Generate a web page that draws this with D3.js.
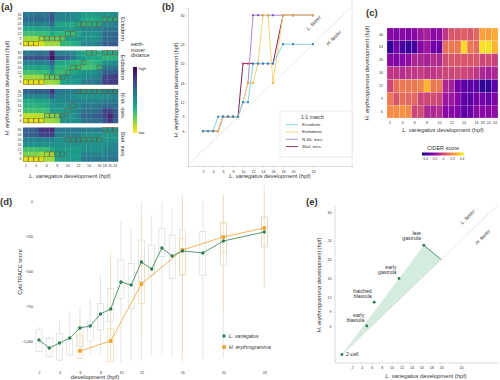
<!DOCTYPE html>
<html><head><meta charset="utf-8">
<script src="https://cdn.jsdelivr.net/npm/d3@7/dist/d3.min.js"></script>
<style>
body{margin:0;background:#fff;}
svg{display:block;}
text{font-family:"Liberation Sans",Arial,Helvetica,sans-serif;fill:#333;}
</style></head><body>
<svg id="fig" width="500" height="380"></svg>
<script>
// ---------------- data ----------------
const lvTimes = [2,3,4,5,6,7,8,9,10,11,12,13,14,15,16,18,20,24];
const heTimes = [6,9,12,16,20,24,30];
const lvTickLabels = [2,4,6,8,10,12,14,16,18,20,24];
const heTickLabels = [6,9,12,16,20,24,30];
const layerNames = ["Ectoderm","Endoderm","N-sk. mes.","Skel. mes."];
const legendNamesB = ["Ectoderm","Endoderm","N-Sk. mes.","Skel. mes."];

// (a) earth-mover distance (0 = low, 1 = high); rows: 30,24,20,16,12,9,6 hpf
const emdEcto = [
 [0.6,0.6,0.62,0.62,0.6,0.72,0.55,0.55,0.55,0.52,0.5,0.45,0.45,0.45,0.48,0.5,0.5,0.52],
 [0.65,0.65,0.66,0.66,0.65,0.75,0.55,0.55,0.55,0.52,0.5,0.42,0.4,0.4,0.42,0.4,0.4,0.42],
 [0.55,0.55,0.55,0.56,0.55,0.65,0.42,0.42,0.4,0.4,0.38,0.36,0.36,0.38,0.4,0.55,0.55,0.58],
 [0.4,0.4,0.42,0.42,0.42,0.5,0.45,0.45,0.45,0.45,0.48,0.55,0.55,0.55,0.58,0.6,0.6,0.62],
 [0.3,0.3,0.3,0.32,0.32,0.4,0.35,0.35,0.33,0.33,0.4,0.5,0.5,0.5,0.52,0.65,0.65,0.68],
 [0.15,0.15,0.15,0.17,0.25,0.25,0.25,0.27,0.45,0.45,0.5,0.5,0.5,0.5,0.52,0.65,0.65,0.68],
 [0.04,0.04,0.05,0.06,0.15,0.15,0.15,0.35,0.35,0.38,0.4,0.55,0.55,0.55,0.58,0.7,0.7,0.72]];
const emdEndo = [
 [0.6,0.6,0.62,0.62,0.6,0.9,0.55,0.55,0.55,0.52,0.45,0.4,0.38,0.38,0.38,0.4,0.4,0.42],
 [0.75,0.75,0.76,0.76,0.75,0.95,0.7,0.7,0.68,0.6,0.5,0.45,0.42,0.4,0.4,0.35,0.35,0.37],
 [0.55,0.55,0.56,0.56,0.55,0.7,0.42,0.4,0.4,0.38,0.35,0.35,0.33,0.35,0.38,0.5,0.5,0.52],
 [0.42,0.42,0.42,0.42,0.42,0.55,0.35,0.35,0.35,0.32,0.32,0.3,0.3,0.32,0.35,0.6,0.6,0.62],
 [0.3,0.3,0.3,0.32,0.32,0.45,0.32,0.32,0.35,0.4,0.45,0.5,0.5,0.5,0.55,0.7,0.7,0.72],
 [0.15,0.15,0.15,0.17,0.22,0.25,0.28,0.45,0.48,0.5,0.5,0.52,0.52,0.55,0.58,0.8,0.8,0.82],
 [0.04,0.04,0.05,0.06,0.15,0.15,0.18,0.42,0.45,0.45,0.48,0.6,0.6,0.6,0.62,0.8,0.82,0.82]];
const emdNsk = [
 [0.7,0.7,0.7,0.7,0.7,0.85,0.6,0.6,0.6,0.58,0.55,0.5,0.5,0.5,0.5,0.55,0.55,0.55],
 [0.55,0.55,0.55,0.56,0.55,0.7,0.55,0.55,0.55,0.52,0.5,0.5,0.5,0.5,0.5,0.52,0.52,0.55],
 [0.4,0.4,0.42,0.42,0.42,0.5,0.52,0.52,0.55,0.55,0.55,0.55,0.55,0.55,0.55,0.58,0.58,0.6],
 [0.35,0.35,0.35,0.37,0.38,0.48,0.5,0.5,0.5,0.5,0.52,0.6,0.6,0.6,0.62,0.65,0.65,0.65],
 [0.3,0.3,0.3,0.3,0.32,0.45,0.45,0.45,0.45,0.5,0.55,0.62,0.62,0.65,0.65,0.8,0.8,0.7],
 [0.1,0.1,0.1,0.12,0.2,0.2,0.22,0.48,0.5,0.5,0.55,0.68,0.68,0.7,0.72,0.8,0.9,0.75],
 [0.04,0.04,0.05,0.06,0.15,0.15,0.18,0.5,0.5,0.5,0.52,0.62,0.62,0.65,0.65,0.75,0.85,0.7]];
const emdSkel = [
 [0.7,0.7,0.72,0.85,0.85,0.88,0.6,0.6,0.6,0.6,0.6,0.58,0.58,0.58,0.58,0.5,0.5,0.5],
 [0.7,0.7,0.72,0.8,0.8,0.82,0.55,0.55,0.55,0.55,0.55,0.5,0.5,0.5,0.5,0.48,0.48,0.5],
 [0.55,0.55,0.55,0.55,0.55,0.55,0.5,0.5,0.5,0.5,0.48,0.45,0.45,0.45,0.45,0.48,0.5,0.5],
 [0.5,0.5,0.5,0.5,0.5,0.5,0.5,0.5,0.5,0.5,0.5,0.5,0.5,0.5,0.5,0.52,0.52,0.55],
 [0.3,0.3,0.3,0.32,0.32,0.42,0.45,0.45,0.45,0.45,0.45,0.5,0.5,0.5,0.5,0.52,0.55,0.55],
 [0.2,0.2,0.2,0.15,0.15,0.15,0.42,0.45,0.45,0.45,0.45,0.55,0.55,0.55,0.55,0.55,0.58,0.58],
 [0.04,0.04,0.05,0.06,0.15,0.15,0.42,0.45,0.45,0.45,0.45,0.6,0.6,0.6,0.6,0.6,0.62,0.62]];

// best-matching H. erythrogramma time for every L. variegatus time (a boxes, b lines)
const matchEcto = [6,6,6,9,9,9,9,9,12,12,20,20,20,20,20,24,24,24];
const matchEndo = [6,6,6,6,9,9,9,9,12,16,16,20,30,30,16,30,30,30];
const matchNsk  = [6,6,6,6,9,9,9,9,12,16,30,30,30,30,30,30,30,30];
const matchSkel = [6,6,6,6,9,9,9,9,20,20,20,20,20,20,20,30,30,30];

// (c) CIDER score; rows: 30,24,20,16,12,9,6 hpf
const cider = [
 [-0.2,-0.22,-0.2,-0.22,-0.2,-0.15,-0.12,-0.2,-0.18,-0.05,0.05,0.05,0.08,0.05,0.1,0.25,0.25,0.28],
 [-0.4,-0.25,-0.35,-0.38,-0.35,-0.2,-0.15,-0.25,-0.28,0.12,0.15,0.15,0.38,0.15,0.12,0.4,0.4,0.3],
 [-0.2,-0.22,-0.2,-0.18,-0.1,-0.1,-0.12,-0.08,-0.1,0.02,0.05,0.05,0.05,0.05,0.05,0.0,0.02,-0.02],
 [-0.05,-0.05,-0.08,-0.05,-0.05,-0.03,-0.05,-0.05,-0.03,0.0,0.0,0.02,0.0,-0.02,-0.05,-0.1,-0.12,-0.1],
 [0.0,0.12,0.15,0.15,0.15,0.18,0.3,0.15,0.15,-0.1,-0.12,-0.25,-0.3,-0.3,-0.3,-0.4,-0.4,-0.3],
 [0.15,0.05,0.12,0.1,0.1,0.0,0.0,0.02,0.0,-0.15,-0.15,-0.2,-0.3,-0.3,-0.25,-0.25,-0.28,-0.22],
 [0.2,0.2,0.22,0.2,0.0,0.02,-0.1,-0.1,-0.08,-0.2,-0.2,-0.22,-0.3,-0.28,-0.2,-0.2,-0.2,-0.18]];
const ciderTicks = [-0.4,-0.2,0,0.2,0.4];

// (d) CytoTRACE score
const lvMedian = [-993,-1050,-1014,-979,-907,-893,-807,-771,-579,-600,-436,-486,-336,-393,-357,-371,-286,-221];
const lvQ1 = [-1076,-1112,-1136,-1100,-1040,-1000,-921,-862,-695,-767,-576,-529,-398,-552,-529,-529,-457,-329];
const lvQ3 = [-917,-981,-945,-981,-898,-862,-731,-624,-421,-445,-279,-314,-195,-243,-207,-219,-160,-114];
const lvLo = [-1076,-1124,-1148,-1112,-1076,-1100,-1100,-1124,-1148,-1136,-1136,-1100,-1100,-1112,-1100,-1124,-1124,-621];
const lvHi = [-898,-960,-850,-790,-755,-695,-529,-410,-148,-195,-5,-100,-5,-52,43,-5,43,114];
const heDTimes = [6,9,12,16,20,24];
const heMedian = [-1071,-1000,-593,-350,-257,-193];
const heQ1 = [-1124,-1148,-731,-529,-362,-314];
const heQ3 = [-957,-910,-457,-267,-148,-121];
const heLo = [-1148,-1148,-957,-1148,-790,-600];
const heHi = [-826,-362,-100,19,43,64];
const dXTicks = [2,4,6,8,10,12,16,20,24];
const dYTicks = [-1000,-750,-500,-250,0];

// (e) developmental stages
const stages = ["2-cell","early|blastula","hatched|blastula","early|gastrula","late|gastrula"];
const stageLv = [0,5,6.5,11.5,16.5];
const stageHe = [0,6,11,16,23];

// ---------------- drawing ----------------
const F = '"Liberation Sans", Arial, Helvetica, sans-serif';
const svg = d3.select("#fig");
const heDesc = heTimes.slice().reverse();

function sp(sel, species, rest){
  sel.append("tspan").attr("font-style","italic").text(species);
  sel.append("tspan").text(rest);
  return sel;
}
function styleAxis(g, fs, keepDomain){
  g.attr("font-family", F).attr("font-size", fs);
  if(!keepDomain) g.select(".domain").remove();
  else g.select(".domain").attr("stroke","#bbb").attr("stroke-width",0.5);
  g.selectAll(".tick line").attr("stroke","#aaa").attr("stroke-width",0.4);
  g.selectAll("text").attr("fill","#444");
}

// panel letters
[["(a)",1,10],["(b)",162,10],["(c)",366,16],["(d)",0,205],["(e)",306,205]].forEach(d=>{
  svg.append("text").attr("x",d[1]).attr("y",d[2]).attr("font-size",9.5).attr("font-weight","bold").attr("fill","#111").text(d[0]);
});

// ===== (a) =====
const aX = d3.scaleBand().domain(lvTimes).range([23,118]);
[emdEcto, emdEndo, emdNsk, emdSkel].forEach((m,i)=>{
  const top = 12 + i*38.5;
  const aY = d3.scaleBand().domain(heDesc).range([top, top+34]);
  const g = svg.append("g");
  m.forEach((row,r)=>row.forEach((v,c)=>{
    g.append("rect").attr("x",aX(lvTimes[c])).attr("y",aY(heDesc[r]))
      .attr("width",aX.bandwidth()+0.25).attr("height",aY.bandwidth()+0.25)
      .attr("fill",d3.interpolateViridis(1-v));
  }));
  const match = [matchEcto,matchEndo,matchNsk,matchSkel][i];
  match.forEach((h,c)=>{
    g.append("rect").attr("x",aX(lvTimes[c])+0.2).attr("y",aY(h)+0.2)
      .attr("width",aX.bandwidth()-0.4).attr("height",aY.bandwidth()-0.4)
      .attr("fill","none").attr("stroke","#6b4a2a").attr("stroke-width",0.55).attr("stroke-opacity",0.8);
  });
  const ya = g.append("g").attr("transform","translate(23,0)").call(d3.axisLeft(aY).tickSize(0).tickPadding(1.5));
  styleAxis(ya, 3.6);
  g.append("text").attr("transform",`translate(121,${top+17}) rotate(90)`).attr("text-anchor","middle")
    .attr("font-size",5.6).attr("fill","#333").text(layerNames[i]);
});
{
  const xa = svg.append("g").attr("transform","translate(0,161.5)").call(d3.axisBottom(aX).tickValues(lvTickLabels).tickSize(0).tickPadding(2.5));
  styleAxis(xa, 3.6);
  sp(svg.append("text").attr("x",70).attr("y",178).attr("text-anchor","middle").attr("font-size",5.8),"L. variegatus"," development (hpf)");
  sp(svg.append("text").attr("transform","translate(9,88) rotate(-90)").attr("text-anchor","middle").attr("font-size",5.8),"H. erythrogramma"," development (hpf)");
  // legend
  const defs = svg.append("defs");
  const lg = defs.append("linearGradient").attr("id","vir").attr("x1",0).attr("y1",0).attr("x2",0).attr("y2",1);
  d3.range(0,1.01,0.1).forEach(t=>lg.append("stop").attr("offset",t).attr("stop-color",d3.interpolateViridis(t)));
  svg.append("rect").attr("x",133).attr("y",67).attr("width",4).attr("height",66).attr("fill","url(#vir)");
  ["earth-","mover","distance"].forEach((t,k)=>svg.append("text").attr("x",131).attr("y",46+k*5.5).attr("font-size",5).attr("fill","#333").text(t));
  svg.append("text").attr("x",138.5).attr("y",70).attr("font-size",4).attr("fill","#444").text("high");
  svg.append("text").attr("x",138.5).attr("y",134).attr("font-size",4).attr("fill","#444").text("low");
}

// ===== (b) =====
const bx = d3.scaleLinear().domain([-1,31.8]).range([188,352]);
const by = d3.scaleLinear().domain([-1.2,31.5]).range([166,8]);
{
  const g = svg.append("g");
  g.append("line").attr("x1",bx(-1)).attr("y1",by(-1)).attr("x2",bx(31.5)).attr("y2",by(31.5))
    .attr("stroke","#aaa").attr("stroke-width",0.7).attr("stroke-dasharray","1,1.6");
  g.append("line").attr("x1",352).attr("y1",0).attr("x2",352).attr("y2",168).attr("stroke","#ccc").attr("stroke-width",0.5);
  const xa = g.append("g").attr("transform","translate(0,166)").call(d3.axisBottom(bx).tickValues(lvTickLabels).tickSize(1.5).tickPadding(3));
  styleAxis(xa, 3.6, true);
  const ya = g.append("g").attr("transform","translate(188,0)").call(d3.axisLeft(by).tickValues(heTickLabels).tickSize(1.5).tickPadding(2));
  styleAxis(ya, 3.6, true);
  const lineCols = ["#86cfe0","#f3d47a","#a98ad0","#7d2555"];
  const ptCols = ["#3b85c0","#e6b23a","#8a5bb8","#cc3a66"];
  const series = [matchEcto,matchEndo,matchNsk,matchSkel];
  const line = d3.line().x((d,i)=>bx(lvTimes[i])).y(d=>by(d));
  [3,2,1,0].forEach(s=>{
    g.append("path").attr("d",line(series[s])).attr("fill","none").attr("stroke",lineCols[s]).attr("stroke-width",1);
  });
  [3,2,1,0].forEach(s=>{
    series[s].forEach((h,i)=>g.append("circle").attr("cx",bx(lvTimes[i])).attr("cy",by(h)).attr("r",1.15).attr("fill",ptCols[s]));
  });
  g.append("text").attr("transform",`translate(315,24) rotate(-45)`).attr("text-anchor","middle").attr("font-size",5).attr("fill","#2e8b57").attr("font-style","italic").text("L. faster");
  g.append("text").attr("transform",`translate(335,39) rotate(-45)`).attr("text-anchor","middle").attr("font-size",5).attr("fill","#e8743b").attr("font-style","italic").text("H. faster");
  // legend
  g.append("rect").attr("x",280).attr("y",111).attr("width",72).attr("height",46).attr("fill","#fff").attr("stroke","#ccc").attr("stroke-width",0.4);
  g.append("text").attr("x",301).attr("y",119).attr("font-size",5.2).attr("fill","#333").text("1:1 match");
  legendNamesB.forEach((n,k)=>{
    const yy = 126 + k*7.3;
    g.append("line").attr("x1",286).attr("x2",298).attr("y1",yy-1.3).attr("y2",yy-1.3).attr("stroke",lineCols[k]).attr("stroke-width",0.9);
    g.append("text").attr("x",302).attr("y",yy).attr("font-size",4.3).attr("fill","#444").text(n);
  });
  sp(g.append("text").attr("x",270).attr("y",178).attr("text-anchor","middle").attr("font-size",5.8),"L. variegatus"," development (hpf)");
  sp(g.append("text").attr("transform","translate(178,90) rotate(-90)").attr("text-anchor","middle").attr("font-size",5.8),"H. erythrogramma"," development (hpf)");
}

// ===== (c) =====
const cx = d3.scaleBand().domain(lvTimes).range([387,498]);
const cy = d3.scaleBand().domain(heDesc).range([28,118]);
const cCol = d3.scaleSequential(d3.interpolatePlasma).domain([-0.45,0.45]);
{
  const g = svg.append("g");
  cider.forEach((row,r)=>row.forEach((v,c)=>{
    g.append("rect").attr("x",cx(lvTimes[c])).attr("y",cy(heDesc[r])).attr("width",cx.bandwidth()).attr("height",cy.bandwidth())
      .attr("fill",cCol(v)).attr("stroke","#fff").attr("stroke-width",0.3).attr("stroke-opacity",0.6);
  }));
  const xa = g.append("g").attr("transform","translate(0,118)").call(d3.axisBottom(cx).tickValues(lvTickLabels).tickSize(0).tickPadding(3));
  styleAxis(xa, 3.6);
  const ya = g.append("g").attr("transform","translate(387,0)").call(d3.axisLeft(cy).tickSize(0).tickPadding(4));
  styleAxis(ya, 3.6);
  sp(g.append("text").attr("x",443).attr("y",132).attr("text-anchor","middle").attr("font-size",5.8),"L. variegatus"," development (hpf)");
  sp(g.append("text").attr("transform","translate(369,73) rotate(-90)").attr("text-anchor","middle").attr("font-size",5.8),"H. erythrogramma"," development (hpf)");
  const defs = svg.append("defs");
  const lg = defs.append("linearGradient").attr("id","pla");
  d3.range(0,1.01,0.1).forEach(t=>lg.append("stop").attr("offset",t).attr("stop-color",d3.interpolatePlasma(t)));
  g.append("text").attr("x",443).attr("y",150).attr("text-anchor","middle").attr("font-size",5.5).attr("fill","#333").text("CIDER score");
  const lx = d3.scaleLinear().domain([-0.45,0.45]).range([422,464]);
  g.append("rect").attr("x",422).attr("y",152.5).attr("width",42).attr("height",3).attr("fill","url(#pla)");
  const la = g.append("g").attr("transform","translate(0,156)").call(d3.axisBottom(lx).tickValues(ciderTicks).tickSize(0).tickPadding(2).tickFormat(d3.format("")));
  styleAxis(la, 3.2);
}

// ===== (d) =====
const dx = d3.scaleLinear().domain([2,24]).range([39,264.3]);
const dy = d3.scaleLinear().domain([-1000,0]).range([341,201]);
{
  const g = svg.append("g");
  const bw = 6;
  lvTimes.forEach((t,i)=>{
    const x = dx(t);
    g.append("line").attr("x1",x).attr("x2",x).attr("y1",dy(lvLo[i])).attr("y2",dy(lvHi[i])).attr("stroke","#d4dcd4").attr("stroke-width",0.7);
    g.append("rect").attr("x",x-bw/2).attr("y",dy(lvQ3[i])).attr("width",bw).attr("height",dy(lvQ1[i])-dy(lvQ3[i]))
      .attr("fill","#fff").attr("fill-opacity",0.6).attr("stroke","#cfd8cf").attr("stroke-width",0.6);
  });
  heDTimes.forEach((t,i)=>{
    const x = dx(t);
    g.append("line").attr("x1",x).attr("x2",x).attr("y1",dy(heLo[i])).attr("y2",dy(heHi[i])).attr("stroke","#f3ddb5").attr("stroke-width",0.7);
    g.append("rect").attr("x",x-bw/2).attr("y",dy(heQ3[i])).attr("width",bw).attr("height",dy(heQ1[i])-dy(heQ3[i]))
      .attr("fill","none").attr("stroke","#f1d6a6").attr("stroke-width",0.6);
  });
  const lineG = d3.line().x((d,i)=>dx(lvTimes[i])).y(d=>dy(d));
  const lineH = d3.line().x((d,i)=>dx(heDTimes[i])).y(d=>dy(d));
  g.append("path").attr("d",lineH(heMedian)).attr("fill","none").attr("stroke","#f0a22e").attr("stroke-width",0.8);
  g.append("path").attr("d",lineG(lvMedian)).attr("fill","none").attr("stroke","#2f7d52").attr("stroke-width",0.8);
  heMedian.forEach((v,i)=>g.append("rect").attr("x",dx(heDTimes[i])-1.8).attr("y",dy(v)-1.8).attr("width",3.6).attr("height",3.6).attr("fill","#f0a22e"));
  lvMedian.forEach((v,i)=>g.append("circle").attr("cx",dx(lvTimes[i])).attr("cy",dy(v)).attr("r",1.7).attr("fill","#2f7d52"));
  const xa = g.append("g").attr("transform","translate(0,368)").call(d3.axisBottom(dx).tickValues(dXTicks).tickSize(0).tickPadding(3));
  styleAxis(xa, 3.6);
  const ya = g.append("g").attr("transform","translate(35,0)").call(d3.axisLeft(dy).tickValues(dYTicks).tickSize(0).tickPadding(2));
  styleAxis(ya, 3.6);
  g.append("text").attr("x",95).attr("y",379).attr("text-anchor","middle").attr("font-size",6).attr("fill","#333").text("development (hpf)");
  g.append("text").attr("transform","translate(22,272) rotate(-90)").attr("text-anchor","middle").attr("font-size",5.6).attr("fill","#333").text("CytoTRACE score");
  g.append("circle").attr("cx",224).attr("cy",336).attr("r",1.7).attr("fill","#2f7d52");
  g.append("text").attr("x",229).attr("y",338).attr("font-size",5.2).attr("font-style","italic").attr("fill","#333").text("L. variegatus");
  g.append("rect").attr("x",222.2).attr("y",345.2).attr("width",3.6).attr("height",3.6).attr("fill","#f0a22e");
  g.append("text").attr("x",229).attr("y",349).attr("font-size",5.2).attr("font-style","italic").attr("fill","#333").text("H. erythrogramma");
}

// ===== (e) =====
const ex = d3.scaleLinear().domain([0,24]).range([342,461]);
const ey = d3.scaleLinear().domain([6,30]).range([326,212]);
{
  const g = svg.append("g");
  const foot = [20,20];
  g.append("path").attr("d",d3.line()([[ex(stageLv[0]),ey(stageHe[0])],[ex(stageLv[4]),ey(stageHe[4])],[ex(foot[0]),ey(foot[1])]])+"Z")
    .attr("fill","#cfeadb").attr("fill-opacity",0.9);
  g.append("line").attr("x1",ex(-1.4)).attr("y1",ey(-1.4)).attr("x2",ex(31.5)).attr("y2",ey(31.5))
    .attr("stroke","#aaa").attr("stroke-width",0.7).attr("stroke-dasharray","1,1.6");
  g.append("line").attr("x1",ex(stageLv[4])).attr("y1",ey(stageHe[4])).attr("x2",ex(foot[0])).attr("y2",ey(foot[1]))
    .attr("stroke","#2e7d52").attr("stroke-width",0.8);
  const xa = g.append("g").attr("transform","translate(0,363)").call(d3.axisBottom(ex).tickValues(lvTickLabels).tickSize(1.5).tickPadding(2));
  styleAxis(xa, 3.6, true);
  const ya = g.append("g").attr("transform","translate(335,0)").call(d3.axisLeft(ey).tickValues(heTickLabels).tickSize(1.5).tickPadding(2));
  styleAxis(ya, 3.6, true);
  g.selectAll(".domain").attr("d", null);
  g.append("line").attr("x1",335).attr("x2",335).attr("y1",205).attr("y2",363).attr("stroke","#bbb").attr("stroke-width",0.5);
  g.append("line").attr("x1",335).attr("x2",498).attr("y1",363).attr("y2",363).attr("stroke","#bbb").attr("stroke-width",0.5);
  stageLv.forEach((v,i)=>g.append("circle").attr("cx",ex(v)).attr("cy",ey(stageHe[i])).attr("r",1.4).attr("fill","#2e7d52"));
  const lbl = [[4,1.5,"start"],[-2.5,-4,"end"],[-2.5,-4,"end"],[-2.5,-5,"end"],[-3,-5,"end"]];
  stages.forEach((s,i)=>{
    const parts = s.split("|");
    const t = g.append("text").attr("x",ex(stageLv[i])+lbl[i][0]).attr("y",ey(stageHe[i])+lbl[i][1]-(parts.length-1)*5)
      .attr("text-anchor",lbl[i][2]).attr("font-size",5.2).attr("fill","#222");
    parts.forEach((p,k)=>t.append("tspan").attr("x",ex(stageLv[i])+lbl[i][0]).attr("dy",k?5:0).text(p));
  });
  g.append("text").attr("transform",`translate(469,218) rotate(-45)`).attr("text-anchor","middle").attr("font-size",5).attr("fill","#2e8b57").attr("font-style","italic").text("L. faster");
  g.append("text").attr("transform",`translate(484,238) rotate(-45)`).attr("text-anchor","middle").attr("font-size",5).attr("fill","#e8743b").attr("font-style","italic").text("H. faster");
  sp(g.append("text").attr("x",426).attr("y",378).attr("text-anchor","middle").attr("font-size",5.8),"L. variegatus"," development (hpf)");
  sp(g.append("text").attr("transform","translate(321,285) rotate(-90)").attr("text-anchor","middle").attr("font-size",5.8),"H. erythrogramma"," development (hpf)");
}
</script>
</body></html>
